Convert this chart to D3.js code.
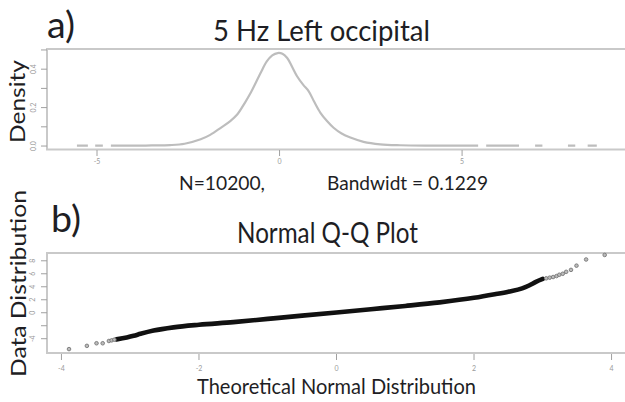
<!DOCTYPE html>
<html><head><meta charset="utf-8">
<script src="https://cdn.jsdelivr.net/npm/d3@7"></script>
<style>body{margin:0;background:#fff}svg{display:block}text{font-family:Lato,"Open Sans",sans-serif}</style>
</head><body><svg id="c" width="625" height="402"></svg>
<script>
// ---- Panel a: kernel density ----
const densityX = [-5.55,-5.25,null,-5.05,-4.84,null,-4.62,-4.0,-3.5,-3.0,-2.6,-2.16,-1.9,-1.61,-1.35,-1.16,-0.95,-0.79,-0.52,-0.35,-0.2,-0.05,0.08,0.21,0.35,0.48,0.65,0.8,0.95,1.12,1.3,1.48,1.7,1.94,2.3,2.76,3.3,4.0,5.44,null,5.66,6.56,null,7.0,7.2,null,7.9,8.1,null,8.44,8.69];
const densityY = [0.002,0.002,null,0.002,0.002,null,0.002,0.002,0.003,0.005,0.012,0.035,0.058,0.095,0.13,0.164,0.225,0.277,0.38,0.44,0.472,0.484,0.48,0.458,0.41,0.363,0.318,0.285,0.23,0.173,0.13,0.095,0.065,0.044,0.022,0.009,0.004,0.002,0.002,null,0.002,0.002,null,0.002,0.002,null,0.002,0.002,null,0.002,0.002];
const densityXTicks = [-5,0,5];
const densityXLabels = ["-5","0","5"];
const densityYTicks = [0,0.1,0.2,0.3,0.4,0.5];
const densityYLabels = ["0.0","","0.2","","0.4",""];

// ---- Panel b: normal Q-Q ----
const bandTheo = [-3.2,-3.05,-2.95,-2.85,-2.66,-2.37,-2.0,-1.5,-1.0,-0.5,0,0.5,1.0,1.5,2.0,2.3,2.5,2.7,2.8,2.9,3.0];
const bandSample = [-4.1,-3.8,-3.55,-3.25,-2.75,-2.25,-1.85,-1.45,-0.95,-0.45,0.05,0.55,1.05,1.6,2.3,2.85,3.25,3.75,4.2,4.75,5.2];
const pointTheo = [-3.89,-3.63,-3.49,-3.40,-3.31,-3.27,-3.23,3.05,3.1,3.15,3.2,3.24,3.29,3.34,3.41,3.49,3.63,3.9];
const pointSample = [-5.6,-5.1,-4.7,-4.7,-4.35,-4.25,-4.15,5.3,5.4,5.5,5.65,5.85,6.0,6.3,6.6,7.25,8.2,8.9];
const qqXTicks = [-4,-2,0,2,4];
const qqXLabels = ["-4","-2","0","2","4"];
const qqYTicks = [-4,-2,0,2,4,6,8];
const qqYLabels = ["-4","","0","2","4","6","8"];

const svg = d3.select("#c");
const txt = "#1e1e24";
const boxCol = "#c9c9c9";
const tickCol = "#a0a0a0";

function label(s, x, y, size, len, opts={}) {
  const t = svg.append("text").attr("x", x).attr("y", y).attr("font-size", size)
    .attr("fill", opts.fill || txt).attr("text-anchor", opts.anchor || "start")
    .attr("textLength", len).attr("lengthAdjust", "spacingAndGlyphs").text(s);
  if (opts.rotate) t.attr("transform", `rotate(-90,${x},${y})`);
  return t;
}

// Panel a scales
const xA = d3.scaleLinear().domain([-6.37, 9.49]).range([47, 626]);
const yA = d3.scaleLinear().domain([-0.018, 0.505]).range([149.5, 49]);

svg.append("rect").attr("x", 47).attr("y", 49).attr("width", 582).attr("height", 100.5)
  .attr("fill", "none").attr("stroke", boxCol).attr("stroke-width", 2);

// y axis a
const gYA = svg.append("g");
densityYTicks.forEach((v, i) => {
  gYA.append("line").attr("x1", 41).attr("x2", 47).attr("y1", yA(v)).attr("y2", yA(v)).attr("stroke", tickCol).attr("stroke-width", 1);
  if (densityYLabels[i]) {
    gYA.append("text").attr("x", 36).attr("y", yA(v)).attr("font-size", 7).attr("fill", "#9a9a9a")
      .attr("text-anchor", "middle").attr("transform", `rotate(-90,36,${yA(v)})`).text(densityYLabels[i]);
  }
});
// x axis a
densityXTicks.forEach((v, i) => {
  svg.append("line").attr("x1", xA(v)).attr("x2", xA(v)).attr("y1", 150).attr("y2", 156).attr("stroke", tickCol);
  svg.append("text").attr("x", xA(v)).attr("y", 164).attr("font-size", 7).attr("fill", "#9a9a9a")
    .attr("text-anchor", "middle").text(densityXLabels[i]);
});

const densPts = densityX.map((x, i) => [x, densityY[i]]);
svg.append("path").datum(densPts)
  .attr("d", d3.line().defined(d => d[0] !== null && d[1] !== null).x(d => xA(d[0])).y(d => yA(d[1])).curve(d3.curveCatmullRom.alpha(0.5)))
  .attr("fill", "none").attr("stroke", "#bdbdbd").attr("stroke-width", 2.2);

label("a)", 47, 38, 36, 28);
label("5 Hz Left occipital", 213, 41, 28, 217);
label("Density", 25, 143, 21, 83, {rotate: true});
label("N=10200,", 179, 190, 20, 86);
label("Bandwidt = 0.1229", 327, 190, 20, 161);

// Panel b scales
const xB = d3.scaleLinear().domain([-4.21, 4.21]).range([47, 626]);
const yB = d3.scaleLinear().domain([-6.2, 9.2]).range([353, 253]);

svg.append("rect").attr("x", 47).attr("y", 253).attr("width", 582).attr("height", 100)
  .attr("fill", "none").attr("stroke", boxCol).attr("stroke-width", 2);

qqYTicks.forEach((v, i) => {
  svg.append("line").attr("x1", 41).attr("x2", 47).attr("y1", yB(v)).attr("y2", yB(v)).attr("stroke", tickCol);
  if (qqYLabels[i]) {
    svg.append("text").attr("x", 35).attr("y", yB(v)).attr("font-size", 7).attr("fill", "#9a9a9a")
      .attr("text-anchor", "middle").attr("transform", `rotate(-90,35,${yB(v)})`).text(qqYLabels[i]);
  }
});
qqXTicks.forEach((v, i) => {
  svg.append("line").attr("x1", xB(v)).attr("x2", xB(v)).attr("y1", 354).attr("y2", 360).attr("stroke", tickCol);
  svg.append("text").attr("x", xB(v)).attr("y", 371).attr("font-size", 7).attr("fill", "#9a9a9a")
    .attr("text-anchor", "middle").text(qqXLabels[i]);
});

const bandPts = bandTheo.map((x, i) => [x, bandSample[i]]);
svg.append("path").datum(bandPts)
  .attr("d", d3.line().x(d => xB(d[0])).y(d => yB(d[1])).curve(d3.curveMonotoneX))
  .attr("fill", "none").attr("stroke", "#111").attr("stroke-width", 4.6).attr("stroke-linecap", "round");

svg.append("g").selectAll("circle").data(pointTheo.map((x, i) => [x, pointSample[i]])).join("circle")
  .attr("cx", d => xB(d[0])).attr("cy", d => yB(d[1])).attr("r", 1.8)
  .attr("fill", "#bbb").attr("stroke", "#777").attr("stroke-width", 0.9);

label("b)", 51, 232, 36, 30);
label("Normal Q-Q Plot", 237, 243, 28, 181);
label("Data Distribution", 26, 377, 21, 187, {rotate: true});
label("Theoretical Normal Distribution", 197, 394, 21, 279);
</script></body></html>
